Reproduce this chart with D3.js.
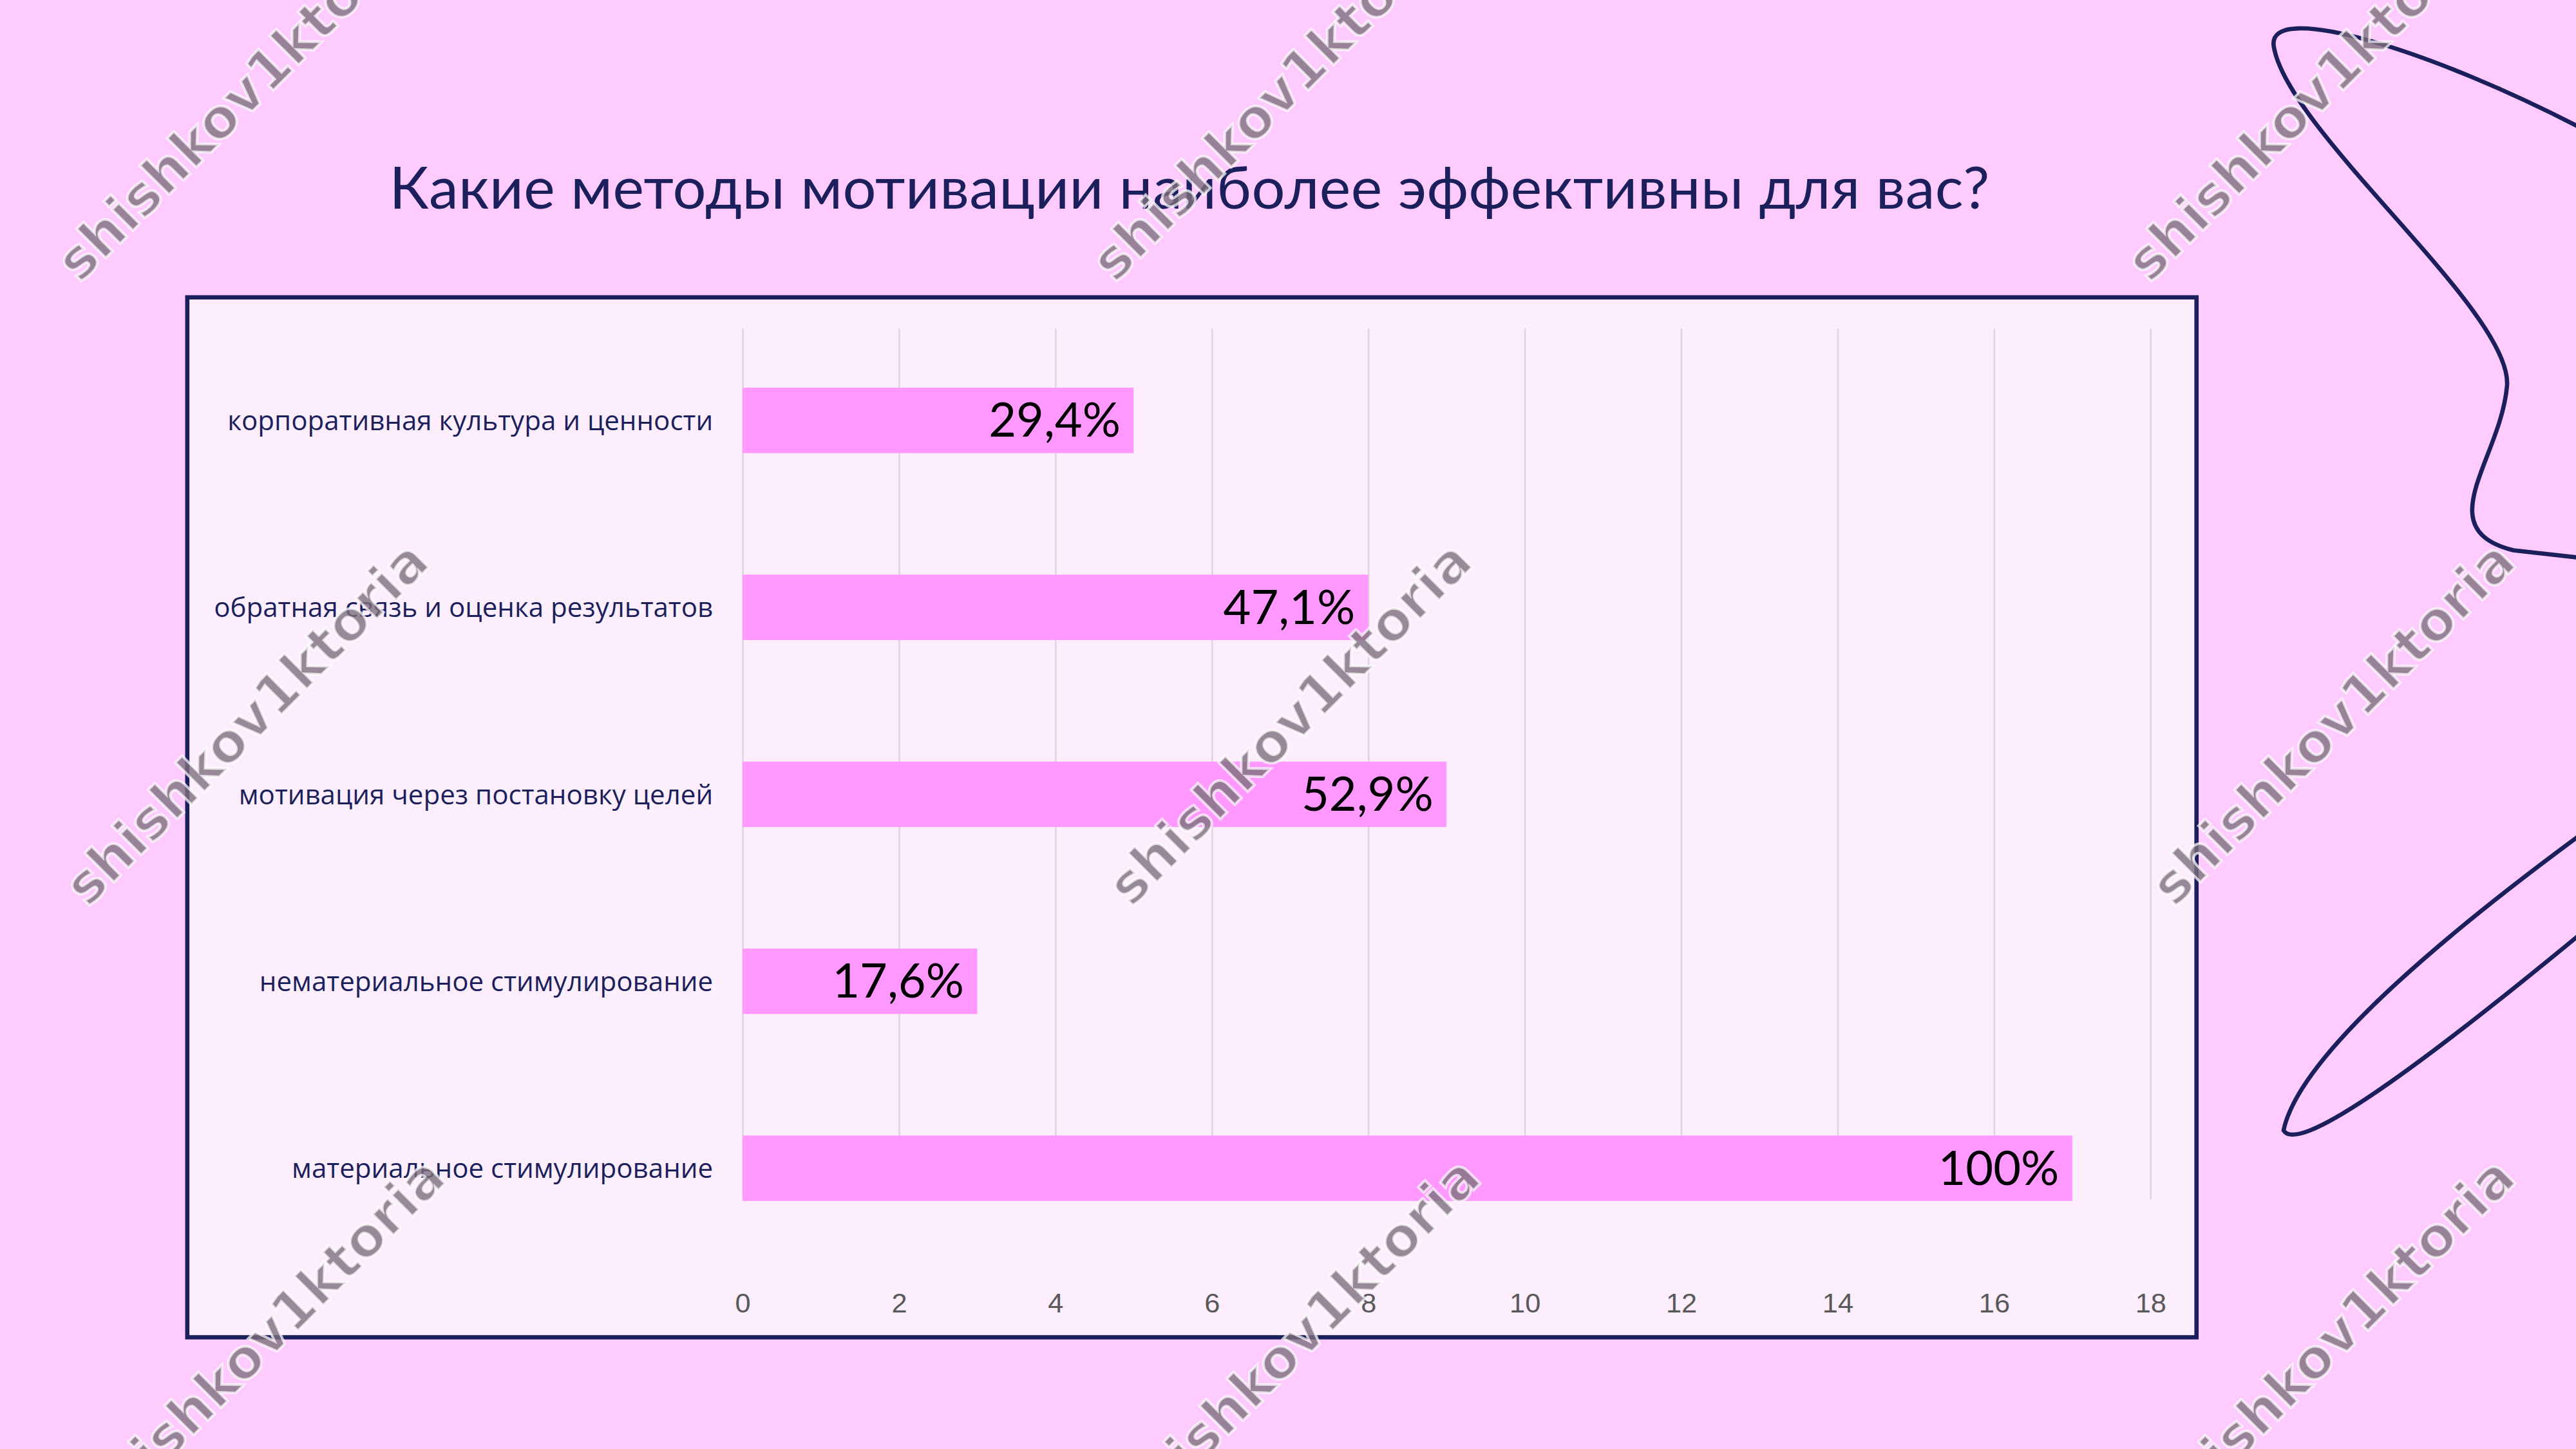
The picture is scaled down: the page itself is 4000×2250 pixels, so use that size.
<!DOCTYPE html>
<html><head><meta charset="utf-8">
<script src="https://cdn.jsdelivr.net/npm/d3@7"></script>
<style>body{margin:0;background:#fecbfe;overflow:hidden}</style>
</head><body><main></main>
<script>
const categories = ["корпоративная культура и ценности", "обратная связь и оценка результатов",
	"мотивация через постановку целей", "нематериальное стимулирование", "материальное стимулирование"];
const values = [5, 8, 9, 3, 17];
const valueLabels = ["29,4%", "47,1%", "52,9%", "17,6%", "100%"];
const ticks = [0, 2, 4, 6, 8, 10, 12, 14, 16, 18];

const s = 4000 / 1568;
const W = 4000, H = 2250;
const svg = d3.select("main").append("svg").attr("width", W).attr("height", H);
svg.append("rect").attr("width", W).attr("height", H).attr("fill", "#fecbfe");

// decorative outline shapes
const deco = svg.append("g").attr("transform", `scale(${s})`)
	.attr("fill", "none").attr("stroke", "#1b1f5c").attr("stroke-width", 2.6);
deco.append("path").attr("d", "M1575,80 C1480,30 1380,0 1384,28 C1392,80 1530,190 1526,235 C1522,280 1478,322 1530,335 L1575,340");
deco.append("path").attr("d", "M1575,505 C1500,560 1400,640 1390,688 C1398,702 1460,660 1575,565");

svg.append("text").attr("x", 724 * s).attr("y", 127 * s).attr("text-anchor", "middle")
	.attr("font-family", "Lato").attr("font-size", 36 * s).attr("fill", "#1b1f5c")
	.attr("textLength", 974 * s)
	.text("Какие методы мотивации наиболее эффективны для вас?");

svg.append("rect").attr("x", 114 * s).attr("y", 181 * s).attr("width", 1223 * s).attr("height", 633 * s)
	.attr("fill", "#fdeefd").attr("stroke", "#1b1f5c").attr("stroke-width", 2.6 * s);

const x = d3.scaleLinear().domain([0, 18]).range([452 * s, 1309 * s]);
const y = d3.scaleBand().domain(categories).range([199 * s, 768 * s]).paddingInner(0.65).paddingOuter(0.325);

const chart = svg.append("g");
chart.append("g").attr("transform", `translate(0,${730 * s})`)
	.call(d3.axisBottom(x).tickValues(ticks).tickSize(-530 * s).tickPadding(57 * s))
	.call(g => g.select(".domain").remove())
	.call(g => g.selectAll("line").attr("stroke", "#dcd6dc").attr("stroke-width", 2.5))
	.call(g => g.selectAll("text").attr("font-family", "Liberation Sans").attr("font-size", 17 * s).attr("fill", "#595959"));

chart.selectAll(".bar").data(values).enter().append("rect")
	.attr("x", x(0)).attr("y", (d, i) => y(categories[i]))
	.attr("width", d => x(d) - x(0)).attr("height", y.bandwidth()).attr("fill", "#ff99ff");

chart.selectAll(".val").data(values).enter().append("text")
	.attr("x", d => x(d) - 8 * s).attr("y", (d, i) => y(categories[i]) + y.bandwidth() / 2 + 10 * s)
	.attr("text-anchor", "end").attr("font-family", "Lato").attr("font-size", 29 * s).attr("fill", "#000")
	.text((d, i) => valueLabels[i]);

chart.selectAll(".cat").data(categories).enter().append("text")
	.attr("x", 434 * s).attr("y", d => y(d) + y.bandwidth() / 2 + 6 * s)
	.attr("text-anchor", "end").attr("font-family", "Open Sans").attr("font-size", 16.5 * s).attr("fill", "#1b1f5c")
	.text(d => d);

// watermarks
const marks = [[145, 60], [775, 60], [1405, 60], [150, 440], [785, 440], [1420, 440], [160, 815], [790, 815], [1420, 815]];
svg.append("g").selectAll("text").data(marks).enter().append("text")
	.attr("transform", d => `translate(${d[0] * s},${d[1] * s}) rotate(-45)`)
	.attr("text-anchor", "middle").attr("dy", "0.35em")
	.attr("font-family", "DejaVu Sans").attr("font-weight", "bold").attr("font-size", 33 * s)
	.attr("fill", "#7d6f7d").attr("fill-opacity", 0.8).attr("stroke", "#ffffff").attr("stroke-width", 4).attr("stroke-opacity", 0.7)
	.text("shishkov1ktoria");
</script></body></html>
